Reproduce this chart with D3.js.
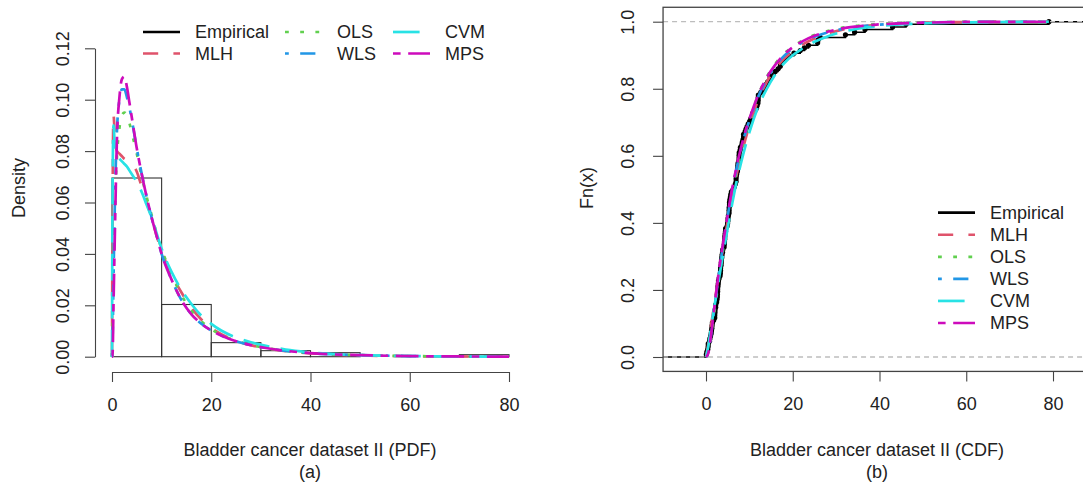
<!DOCTYPE html>
<html>
<head>
<meta charset="utf-8">
<script src="https://cdn.jsdelivr.net/npm/d3@7"></script>
<style>
  body { margin: 0; background: #fff; }
  text { font-family: "Liberation Sans", Arial, sans-serif; font-size: 18px; fill: #222; }
</style>
</head>
<body>
<svg id="chart" width="1083" height="483"></svg>
<script>
// bladder cancer remission times (sample behind the histogram and the ECDF)
const remission = [0.08, 2.09, 3.48, 4.87, 6.94, 8.66, 13.11, 23.63, 0.20, 2.23, 3.52, 4.98, 6.97, 9.02, 13.29,
  0.40, 2.26, 3.57, 5.06, 7.09, 9.22, 13.80, 25.74, 0.50, 2.46, 3.64, 5.09, 7.26, 9.47, 14.24, 25.82,
  0.51, 2.54, 3.70, 5.17, 7.28, 9.74, 14.76, 26.31, 0.81, 2.62, 3.82, 5.32, 7.32, 10.06, 14.77, 32.15,
  2.64, 3.88, 5.32, 7.39, 10.34, 14.83, 34.26, 0.90, 2.69, 4.18, 5.34, 7.59, 10.66, 15.96, 36.66,
  1.05, 2.69, 4.23, 5.41, 7.62, 10.75, 16.62, 43.01, 1.19, 2.75, 4.26, 5.41, 7.63, 17.12, 46.12,
  1.26, 2.83, 4.33, 5.49, 7.66, 11.25, 17.14, 79.05, 1.35, 2.87, 5.62, 7.87, 11.64, 17.36,
  1.40, 3.02, 4.34, 5.71, 7.93, 11.79, 18.10, 1.46, 4.40, 5.85, 8.26, 11.98, 19.13,
  1.76, 3.25, 4.50, 6.25, 8.37, 12.02, 2.02, 3.31, 4.51, 6.54, 8.53, 12.03, 20.28,
  2.02, 3.36, 6.76, 12.07, 21.73, 2.07, 3.36, 6.93, 8.65, 12.63, 22.69];

const histBreaks = [0, 10, 20, 30, 40, 50, 60, 70, 80];
const methods = ['MLH', 'OLS', 'WLS', 'CVM', 'MPS'];

// fitted densities
const pdfX = [0, 0.1, 0.3, 0.6, 1, 1.5, 2, 2.5, 3, 3.5, 4, 5, 6, 7, 8, 9, 10, 12, 14, 16, 18, 20, 22,
  25, 28, 31, 35, 40, 45, 50, 60, 70, 80];
const pdfMLH = [0, 0.05, 0.094, 0.085, 0.080, 0.079, 0.078, 0.077, 0.0765, 0.0755, 0.075, 0.072, 0.066, 0.060, 0.054, 0.047, 0.041,
  0.032, 0.025, 0.019, 0.0145, 0.0112, 0.0088, 0.0062, 0.0045, 0.0033, 0.0022, 0.0013, 0.0008, 0.0005, 0.0002, 0.0001, 0.00004];
const pdfOLS = [0, 0.01, 0.035, 0.06, 0.078, 0.089, 0.094, 0.095, 0.094, 0.091, 0.087, 0.079, 0.07, 0.062, 0.055, 0.048, 0.042,
  0.032, 0.024, 0.018, 0.0138, 0.0107, 0.0085, 0.0062, 0.0046, 0.0034, 0.0023, 0.0014, 0.0009, 0.0006, 0.00025, 0.0001, 0.00005];
const pdfWLS = [0, 0.005, 0.03, 0.062, 0.088, 0.100, 0.104, 0.104, 0.101, 0.097, 0.092, 0.081, 0.071, 0.062, 0.054, 0.047, 0.040,
  0.030, 0.022, 0.0165, 0.0128, 0.0102, 0.0082, 0.006, 0.0045, 0.0034, 0.0023, 0.0014, 0.0009, 0.0006, 0.00025, 0.0001, 0.00005];
const pdfCVM = [0, 0.06, 0.09, 0.081, 0.078, 0.077, 0.076, 0.075, 0.074, 0.0725, 0.071, 0.068, 0.064, 0.059, 0.054, 0.048, 0.042,
  0.033, 0.026, 0.0205, 0.016, 0.0128, 0.0102, 0.0075, 0.0056, 0.0042, 0.0028, 0.0017, 0.001, 0.0006, 0.00025, 0.0001, 0.00005];
const pdfMPS = [0, 0, 0.02, 0.05, 0.085, 0.101, 0.108, 0.109, 0.105, 0.099, 0.093, 0.081, 0.071, 0.062, 0.054, 0.047, 0.040,
  0.030, 0.022, 0.0165, 0.0128, 0.0102, 0.0082, 0.006, 0.0045, 0.0034, 0.0023, 0.0014, 0.0009, 0.0006, 0.00025, 0.0001, 0.00005];

// fitted distribution functions
const cdfX = [0, 0.5, 1, 2, 3, 4, 5, 6, 7, 8, 9, 10, 12, 14, 16, 18, 20, 22, 25, 28, 31, 35, 40, 45, 50, 60, 70, 79];
const cdfMLH = [0, 0.035, 0.08, 0.165, 0.25, 0.33, 0.405, 0.475, 0.54, 0.595, 0.645, 0.69, 0.765, 0.82, 0.86, 0.89, 0.912, 0.93,
  0.95, 0.965, 0.975, 0.984, 0.991, 0.995, 0.997, 0.999, 0.9996, 0.9999];
const cdfOLS = [0, 0.015, 0.05, 0.14, 0.235, 0.325, 0.41, 0.485, 0.55, 0.61, 0.66, 0.705, 0.78, 0.835, 0.875, 0.905, 0.925, 0.942,
  0.96, 0.972, 0.981, 0.988, 0.993, 0.996, 0.998, 0.9993, 0.9998, 1];
const cdfWLS = [0, 0.012, 0.05, 0.15, 0.25, 0.34, 0.42, 0.495, 0.56, 0.615, 0.665, 0.705, 0.775, 0.828, 0.868, 0.898, 0.92, 0.937,
  0.955, 0.968, 0.977, 0.985, 0.991, 0.995, 0.997, 0.9992, 0.9997, 0.9999];
const cdfCVM = [0, 0.03, 0.075, 0.155, 0.235, 0.31, 0.385, 0.455, 0.52, 0.575, 0.625, 0.67, 0.745, 0.80, 0.843, 0.876, 0.9, 0.918,
  0.94, 0.956, 0.968, 0.979, 0.987, 0.992, 0.995, 0.998, 0.9993, 0.9998];
const cdfMPS = [0, 0.01, 0.05, 0.155, 0.26, 0.345, 0.425, 0.50, 0.565, 0.62, 0.67, 0.71, 0.78, 0.833, 0.872, 0.902, 0.924, 0.94,
  0.958, 0.97, 0.979, 0.986, 0.992, 0.995, 0.997, 0.9992, 0.9997, 0.9999];

const pdfTicksX = [0, 20, 40, 60, 80];
const pdfTicksY = [0, 0.02, 0.04, 0.06, 0.08, 0.10, 0.12];
const cdfTicksY = [0, 0.2, 0.4, 0.6, 0.8, 1.0];

const pdfs = { MLH: pdfMLH, OLS: pdfOLS, WLS: pdfWLS, CVM: pdfCVM, MPS: pdfMPS };
const cdfs = { MLH: cdfMLH, OLS: cdfOLS, WLS: cdfWLS, CVM: cdfCVM, MPS: cdfMPS };

// R-ish line types, dash units scaled by lwd
const u = 3.8;
const styles = {
  Empirical: { color: '#000000', dash: null },
  MLH: { color: '#DF536B', dash: [4 * u, 4 * u] },
  OLS: { color: '#61D04F', dash: [1 * u, 3 * u] },
  WLS: { color: '#2297E6', dash: [1 * u, 3 * u, 4 * u, 3 * u] },
  CVM: { color: '#28E2E5', dash: [7 * u, 3 * u] },
  MPS: { color: '#CD0BBC', dash: [2 * u, 2 * u, 6 * u, 2 * u] }
};
const lw = 2.7;
const axisCol = '#444';

const svg = d3.select('#chart');

function styleAxis(g) {
  g.selectAll('path.domain').attr('stroke', axisCol).attr('stroke-width', 1.1);
  g.selectAll('.tick line').attr('stroke', axisCol).attr('stroke-width', 1.1);
  g.selectAll('.tick text').attr('font-size', null).attr('font-family', null).attr('fill', '#222');
}

function yAxisRotated(g, scale, ticks, fmt, off) {
  g.call(d3.axisLeft(scale).tickValues(ticks).tickFormat(d3.format(fmt)).tickSize(10).tickSizeOuter(0));
  g.selectAll('.tick text')
    .attr('x', null).attr('dy', null)
    .attr('transform', `translate(${off},0) rotate(-90)`)
    .attr('text-anchor', 'middle')
    .attr('dominant-baseline', 'central');
  styleAxis(g);
}

function xAxisBelow(g, scale, ticks) {
  g.call(d3.axisBottom(scale).tickValues(ticks).tickFormat(d3.format('d')).tickSize(10).tickSizeOuter(0));
  g.selectAll('.tick text').attr('y', 33).attr('dy', null).attr('dominant-baseline', 'central');
  styleAxis(g);
}

function drawLegend(g, items, x0, y0, colStep, rowStep, nrow) {
  items.forEach((name, i) => {
    const col = Math.floor(i / nrow), row = i % nrow;
    const lx = x0[col], ly = y0 + row * rowStep;
    const st = styles[name];
    g.append('line')
      .attr('x1', lx).attr('x2', lx + 37).attr('y1', ly).attr('y2', ly)
      .attr('stroke', st.color).attr('stroke-width', lw)
      .attr('stroke-dasharray', st.dash ? st.dash.join(',') : null);
    g.append('text').attr('x', lx + colStep).attr('y', ly)
      .attr('dominant-baseline', 'central').text(name);
  });
}

// ---------- panel (a): PDF ----------
const xa = d3.scaleLinear().domain([0, 80]).range([112, 509]);
const ya = d3.scaleLinear().domain([0, 0.12]).range([356.7, 48.3]);

const bins = d3.bin().domain([0, 80]).thresholds(histBreaks.slice(1, -1))(remission);
const pa = svg.append('g');

pa.append('g').selectAll('rect').data(bins).join('rect')
  .attr('x', d => xa(d.x0)).attr('width', d => xa(d.x1) - xa(d.x0))
  .attr('y', d => ya(d.length / (remission.length * (d.x1 - d.x0))))
  .attr('height', d => ya(0) - ya(d.length / (remission.length * (d.x1 - d.x0))))
  .attr('fill', 'none').attr('stroke', '#333').attr('stroke-width', 1.1);

const lineA = d3.line().x((d, i) => xa(pdfX[i])).y(d => ya(d)).curve(d3.curveMonotoneX);
methods.forEach(m => {
  pa.append('path').attr('d', lineA(pdfs[m]))
    .attr('fill', 'none').attr('stroke', styles[m].color).attr('stroke-width', lw)
    .attr('stroke-dasharray', styles[m].dash ? styles[m].dash.join(',') : null);
});

yAxisRotated(pa.append('g').attr('transform', 'translate(95,0)'), ya, pdfTicksY, '.2f', -32);
xAxisBelow(pa.append('g').attr('transform', 'translate(0,372)'), xa, pdfTicksX);

pa.append('text').attr('transform', 'translate(19,188) rotate(-90)')
  .attr('text-anchor', 'middle').attr('dominant-baseline', 'central').text('Density');
pa.append('text').attr('x', 310).attr('y', 450).attr('text-anchor', 'middle')
  .attr('dominant-baseline', 'central').text('Bladder cancer dataset II (PDF)');
pa.append('text').attr('x', 310).attr('y', 472).attr('text-anchor', 'middle')
  .attr('dominant-baseline', 'central').text('(a)');

drawLegend(pa.append('g'), ['Empirical', ...methods], [143, 285, 393], 32, 52, 21.5, 2);

// ---------- panel (b): CDF ----------
const xb = d3.scaleLinear().domain([0, 80]).range([706, 1053]);
const yb = d3.scaleLinear().domain([0, 1]).range([357, 21.7]);
const xLo = -9.9, xHi = 89.03;

const pb = svg.append('g');
const sorted = remission.slice().sort(d3.ascending);
const n = sorted.length;
const ecdfPts = sorted.map((v, i) => [v, (i + 1) / n]);

// step function
const steps = [[xLo, 0]];
ecdfPts.forEach((p, i) => {
  steps.push([p[0], i / n]);
  steps.push([p[0], p[1]]);
});
steps.push([xHi, 1]);
pb.append('path')
  .attr('d', d3.line().x(d => xb(d[0])).y(d => yb(d[1]))(steps))
  .attr('fill', 'none').attr('stroke', '#000').attr('stroke-width', 1.5);
pb.append('g').selectAll('circle').data(ecdfPts).join('circle')
  .attr('cx', d => xb(d[0])).attr('cy', d => yb(d[1])).attr('r', 2.6).attr('fill', '#000');

// 0 and 1 reference lines
[0, 1].forEach(h => {
  pb.append('line').attr('x1', xb(xLo)).attr('x2', xb(xHi)).attr('y1', yb(h)).attr('y2', yb(h))
    .attr('stroke', '#BDBDBD').attr('stroke-width', 1.3).attr('stroke-dasharray', '5,4');
});

const lineB = d3.line().x((d, i) => xb(cdfX[i])).y(d => yb(d)).curve(d3.curveMonotoneX);
methods.forEach(m => {
  pb.append('path').attr('d', lineB(cdfs[m]))
    .attr('fill', 'none').attr('stroke', styles[m].color).attr('stroke-width', lw)
    .attr('stroke-dasharray', styles[m].dash ? styles[m].dash.join(',') : null);
});

// box
pb.append('rect').attr('x', xb(xLo)).attr('y', yb(1.043))
  .attr('width', xb(xHi) - xb(xLo)).attr('height', yb(-0.043) - yb(1.043))
  .attr('fill', 'none').attr('stroke', axisCol).attr('stroke-width', 1.3);

const gyb = pb.append('g').attr('transform', `translate(${xb(xLo)},0)`);
yAxisRotated(gyb, yb, cdfTicksY, '.1f', -35);
gyb.select('path.domain').remove();
const gxb = pb.append('g').attr('transform', `translate(0,${yb(-0.043)})`);
xAxisBelow(gxb, xb, pdfTicksX);
gxb.select('path.domain').remove();

pb.append('text').attr('transform', 'translate(587,188) rotate(-90)')
  .attr('text-anchor', 'middle').attr('dominant-baseline', 'central').text('Fn(x)');
pb.append('text').attr('x', 877).attr('y', 450).attr('text-anchor', 'middle')
  .attr('dominant-baseline', 'central').text('Bladder cancer dataset II (CDF)');
pb.append('text').attr('x', 877).attr('y', 472).attr('text-anchor', 'middle')
  .attr('dominant-baseline', 'central').text('(b)');

drawLegend(pb.append('g'), ['Empirical', ...methods], [938], 212.7, 52, 22.06, 6);
</script>
</body>
</html>
